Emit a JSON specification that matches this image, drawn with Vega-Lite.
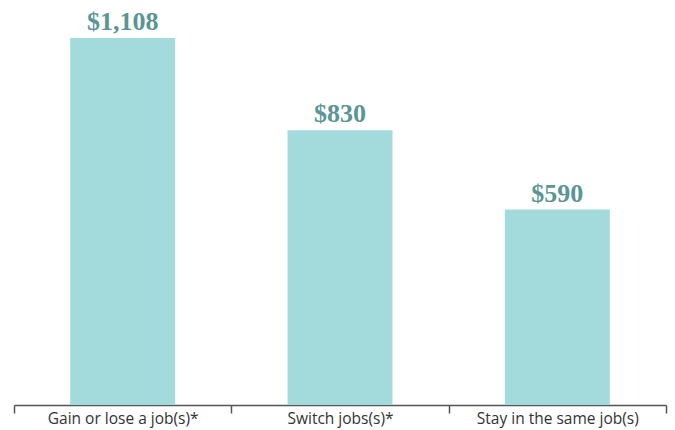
{
  "$schema": "https://vega.github.io/schema/vega-lite/v6.json",
  "width": 652,
  "height": 405,
  "autosize": {"type": "none"},
  "padding": {"left": 14, "top": 0, "right": 9, "bottom": 25},
  "background": "white",
  "config": {"view": {"stroke": null}},
  "data": {
    "values": [
      {"category": "Gain or lose a job(s)*", "value": 1108, "label": "$1,108"},
      {"category": "Switch jobs(s)*", "value": 830, "label": "$830"},
      {"category": "Stay in the same job(s)", "value": 590, "label": "$590"}
    ]
  },
  "encoding": {
    "x": {
      "field": "category",
      "type": "nominal",
      "sort": null,
      "scale": {"paddingInner": 0, "paddingOuter": 0},
      "axis": {
        "title": null,
        "labelAngle": 0,
        "labelFont": "Open Sans",
        "labelFontSize": 15.5,
        "labelColor": "#333333",
        "labelPadding": -1.5,
        "domainColor": "#555555",
        "domainWidth": 1.5,
        "tickColor": "#555555",
        "tickWidth": 1.5,
        "tickSize": 8,
        "tickBand": "extent"
      }
    },
    "y": {
      "field": "value",
      "type": "quantitative",
      "scale": {"domain": [0, 1223], "nice": false},
      "axis": null
    }
  },
  "layer": [
    {"mark": {"type": "bar", "color": "#a3dadb", "width": {"band": 0.483}}},
    {
      "mark": {
        "type": "text",
        "baseline": "alphabetic",
        "dy": -8,
        "font": "Liberation Serif",
        "fontWeight": "bold",
        "fontSize": 26,
        "color": "#5b9595"
      },
      "encoding": {"text": {"field": "label"}}
    }
  ]
}
